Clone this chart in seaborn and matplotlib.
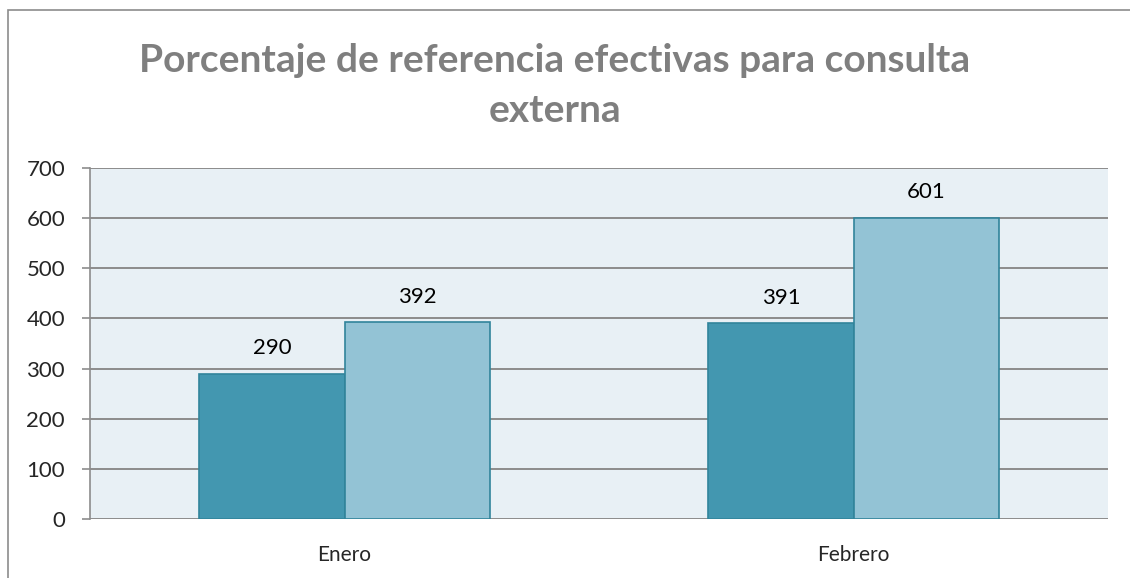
import matplotlib
matplotlib.use("Agg")
import matplotlib.pyplot as plt
from matplotlib.patches import Rectangle
import pandas as pd
import seaborn as sns

# data
meses = ["Enero", "Febrero"]
serie_1 = [290, 391]
serie_2 = [392, 601]
y_ticks = [0, 100, 200, 300, 400, 500, 600, 700]

df = pd.DataFrame({
    "mes": meses * 2,
    "valor": serie_1 + serie_2,
    "serie": ["Serie 1"] * len(meses) + ["Serie 2"] * len(meses),
})

sns.set_style("white")
plt.rcParams["font.family"] = ["Lato", "DejaVu Sans"]

W, H = 1130, 578
fig = plt.figure(figsize=(W / 100, H / 100), dpi=100)
ax = fig.add_axes([90 / W, 1 - 519 / H, (1108 - 90) / W, (519 - 168) / H])
ax.set_facecolor("#E8F0F5")

# outer chart border (left/top visible only)
fig.patches.append(Rectangle((8 / W, -0.05), 1.2, 1 - 10 / H + 0.05,
                             transform=fig.transFigure, fill=False,
                             edgecolor="#8C8C8C", linewidth=1.2))

sns.barplot(data=df, x="mes", y="valor", hue="serie",
            palette=["#4397B0", "#93C3D5"], saturation=1, width=0.57,
            edgecolor="#31849B", linewidth=1.2, legend=False, ax=ax, zorder=3)

for cont in ax.containers:
    ax.bar_label(cont, padding=11, fontsize=16, color="#000000")

ax.set_ylim(0, 700)
ax.set_yticks(y_ticks)
ax.yaxis.grid(True, color="#8C8C8C", linewidth=1.4, zorder=0)
ax.set_axisbelow(True)
for s in ["top", "right", "bottom"]:
    ax.spines[s].set_visible(False)
ax.spines["left"].set_color("#8C8C8C")
ax.spines["left"].set_linewidth(1.2)
ax.tick_params(axis="y", length=6, color="#8C8C8C", width=1.2,
               labelsize=16, pad=12, left=True)
ax.tick_params(axis="x", length=0, labelsize=15, pad=19)
ax.set_xlabel("")
ax.set_ylabel("")

fig.text(555 / W, 1 - 60 / H, "Porcentaje de referencia efectivas para consulta",
         ha="center", va="center", fontsize=28, fontweight="bold", color="#7F7F7F")
fig.text(555 / W, 1 - 110 / H, "externa",
         ha="center", va="center", fontsize=28, fontweight="bold", color="#7F7F7F")

fig.savefig("out.png", dpi=100)
